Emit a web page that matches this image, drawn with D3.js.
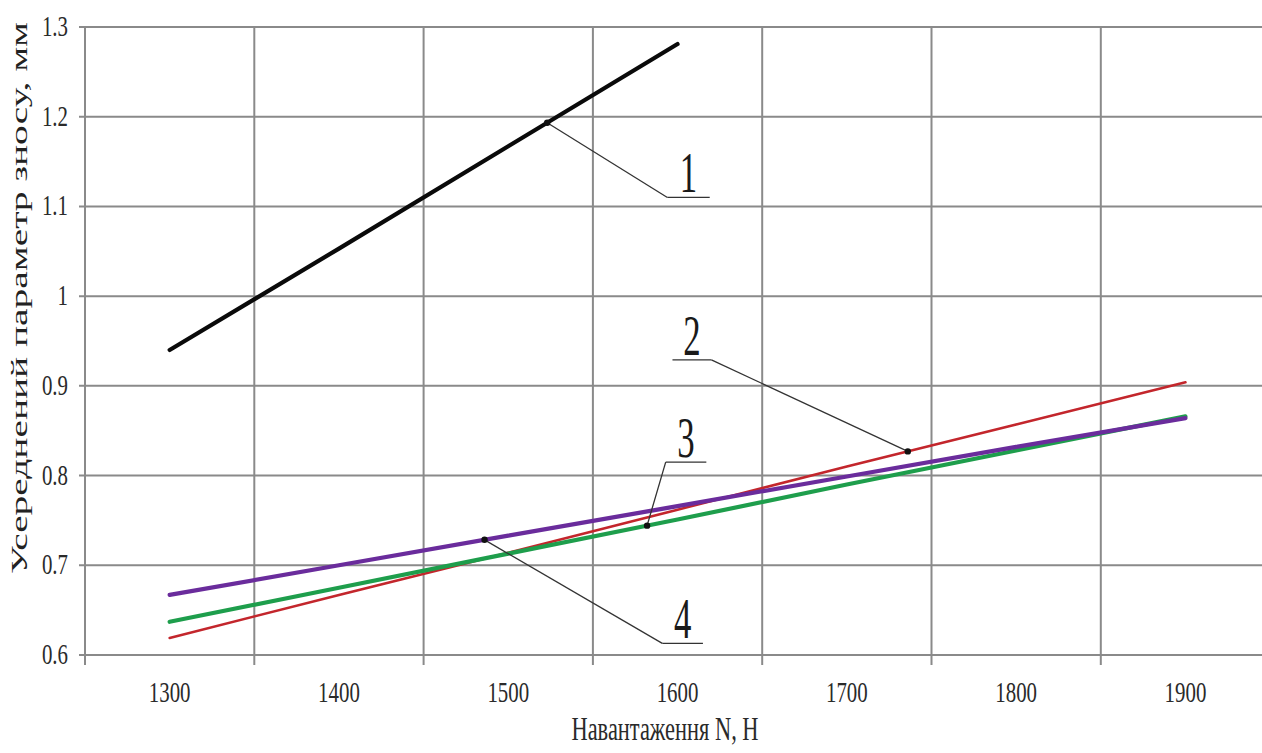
<!DOCTYPE html>
<html>
<head>
<meta charset="utf-8">
<script src="https://cdn.jsdelivr.net/npm/d3@7"></script>
<style>
  html, body { margin: 0; padding: 0; background: #fff; }
  svg { display: block; }
  text { font-family: "Liberation Serif", "DejaVu Serif", serif; }
</style>
</head>
<body>
<svg id="chart" width="1262" height="753"></svg>
<script>
// values (load N, H -> averaged wear, mm)
var loads = [1300, 1400, 1500, 1600, 1700, 1800, 1900];
var wear1 = [0.940, 1.053, 1.167, 1.281];
var wear2 = [0.619, 0.667, 0.714, 0.762, 0.810, 0.857, 0.904];
var wear3 = [0.637, 0.675, 0.713, 0.751, 0.790, 0.828, 0.866];
var wear4 = [0.667, 0.700, 0.733, 0.766, 0.799, 0.832, 0.864];

var yTicks = [0.6, 0.7, 0.8, 0.9, 1, 1.1, 1.2, 1.3];
var xGrid = [1250, 1350, 1450, 1550, 1650, 1750, 1850, 1950];

// callouts: label, load where the leader meets the curve, underline (x0,x1,y) in data units
var calloutLabels = ['1', '2', '3', '4'];
var calloutAt = [1523, 1736, 1582, 1486];
var calloutBar = [
  [1594, 1619, 1.110],
  [1597, 1620, 0.929],
  [1593, 1617, 0.815],
  [1591, 1615, 0.613]
];

var COLORS = ['#0a0a0a', '#c3262c', '#1e9e4c', '#6a2c9c'];
var WIDTHS = [4.2, 2.6, 4.2, 4.2];
var GRID = '#8a8a8a';

(function () {
  var svg = d3.select('#chart');
  var left = 85, top = 27, bottom = 655;
  var step = 169.3; // px per 100 N

  var x = d3.scaleLinear().domain([1250, 1950]).range([left, left + 7 * step]);
  var y = d3.scaleLinear().domain([0.6, 1.3]).range([bottom, top]);

  // narrow serif look of the original (text was squashed horizontally)
  function squeezed(g, px, py, str, size, sx, anchor) {
    return g.append('text')
      .attr('transform', 'translate(' + px + ',' + py + ') scale(' + sx + ',1)')
      .attr('text-anchor', anchor || 'middle')
      .attr('font-size', size)
      .attr('fill', '#2a2a2a')
      .text(str);
  }

  var grid = svg.append('g');
  grid.selectAll('line.h').data(yTicks).join('line')
    .attr('class', 'h')
    .attr('x1', left - 6).attr('x2', x(1950))
    .attr('y1', function (d) { return y(d); }).attr('y2', function (d) { return y(d); })
    .attr('stroke', GRID).attr('stroke-width', 2);
  grid.selectAll('line.v').data(xGrid).join('line')
    .attr('class', 'v')
    .attr('x1', function (d) { return x(d); }).attr('x2', function (d) { return x(d); })
    .attr('y1', top).attr('y2', bottom + 10)
    .attr('stroke', GRID).attr('stroke-width', 2);

  yTicks.forEach(function (t) {
    squeezed(svg, 68, y(t) + 9, String(t), 29, 0.72, 'end');
  });
  loads.forEach(function (t) {
    squeezed(svg, x(t), 702, String(t), 29, 0.72, 'middle');
  });

  squeezed(svg, 665, 740, 'Навантаження N, H', 33, 0.68, 'middle');

  svg.append('text')
    .attr('transform', 'translate(27,298) rotate(-90) scale(1,0.72)')
    .attr('text-anchor', 'middle')
    .attr('font-size', 32)
    .attr('fill', '#222')
    .attr('textLength', 552)
    .attr('lengthAdjust', 'spacingAndGlyphs')
    .text('Усереднений параметр зносу, мм');

  var series = [wear1, wear2, wear3, wear4];
  var line = d3.line()
    .x(function (d) { return x(d[0]); })
    .y(function (d) { return y(d[1]); });

  series.forEach(function (vals, i) {
    var pts = vals.map(function (v, j) { return [loads[j], v]; });
    svg.append('path')
      .datum(pts)
      .attr('d', line)
      .attr('fill', 'none')
      .attr('stroke', COLORS[i])
      .attr('stroke-width', WIDTHS[i])
      .attr('stroke-linecap', 'round');
  });

  // value of a series at any load along its straight segments
  function valueAt(vals, load) {
    var xs = loads.slice(0, vals.length);
    var i = Math.max(1, Math.min(xs.length - 1, d3.bisectLeft(xs, load)));
    var t = (load - xs[i - 1]) / (xs[i] - xs[i - 1]);
    return vals[i - 1] + t * (vals[i] - vals[i - 1]);
  }

  var ann = svg.append('g');
  calloutLabels.forEach(function (lab, i) {
    var bar = calloutBar[i];
    var px = x(calloutAt[i]), py = y(valueAt(series[i], calloutAt[i]));
    var bx0 = x(bar[0]), bx1 = x(bar[1]), by = y(bar[2]);
    // label 2 is joined at the right end of its underline
    var jx = i === 1 ? bx1 : bx0;
    ann.append('line').attr('x1', bx0).attr('x2', bx1).attr('y1', by).attr('y2', by)
      .attr('stroke', '#333').attr('stroke-width', 1.3);
    ann.append('line').attr('x1', jx).attr('y1', by).attr('x2', px).attr('y2', py)
      .attr('stroke', '#333').attr('stroke-width', 1.3);
    ann.append('circle').attr('cx', px).attr('cy', py).attr('r', 3.2).attr('fill', '#111');
    squeezed(ann, (bx0 + bx1) / 2, by - 5, lab, 58, 0.6, 'middle').attr('fill', '#1a1a1a');
  });
})();
</script>
</body>
</html>
